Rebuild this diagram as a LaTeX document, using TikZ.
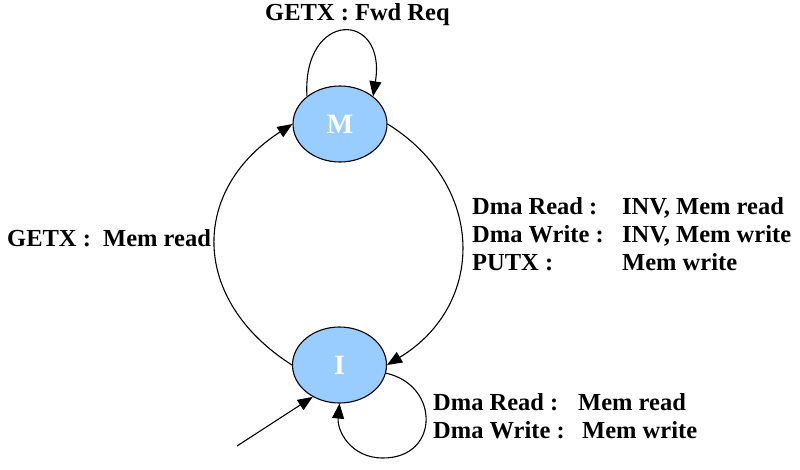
\documentclass[tikz,border=0pt]{standalone}
\usepackage{fontspec}
\setmainfont{Liberation Serif}
\usetikzlibrary{shapes.geometric,arrows.meta}
\definecolor{stateblue}{HTML}{99CCFF}
\begin{document}
\begin{tikzpicture}[x=1pt,y=-1pt,
  state/.style={ellipse, draw, line width=1.1pt, fill=stateblue, minimum width=94pt, minimum height=76pt, inner sep=0pt, text=white, font=\fontsize{28}{30}\selectfont\bfseries},
  lbl/.style={anchor=base west, inner sep=0pt, align=left, font=\fontsize{24.5}{28}\selectfont\bfseries},
  trans/.style={draw, line width=1.1pt, -{Triangle[length=15pt,width=12pt]}}]
\useasboundingbox (0,0) rectangle (800,469);
\node[state] (M) at (340,124) {M};
\node[state] (I) at (339.5,365) {I};
\coordinate (start) at (237,446);
\draw[trans] (I.west) .. controls (190,300) and (190,190) .. (M.west);
\draw[trans] (M.east) .. controls (486,185) and (486,305) .. (I.east);
\draw[trans] (M.140) .. controls (302,10) and (387,10) .. (M.40);
\draw[trans] (I.-10) .. controls (440,385) and (440,458) .. (383,458) .. controls (350,458) and (337,430) .. (I.south);
\draw[trans] (start) -- (I.-130);
\node[lbl] (lM) at (265,20) {GETX : Fwd Req};
\node[lbl] (lL) at (7,246) {GETX :\ \ Mem read};
\node[lbl] (lR) at (472,270) {\makebox[150pt][l]{Dma Read :}INV, Mem read\\\makebox[150pt][l]{Dma Write :}INV, Mem write\\\makebox[150pt][l]{PUTX :}Mem write};
\node[lbl] (lI) at (433,438) {\makebox[145pt][l]{Dma Read :}Mem read\\\makebox[149pt][l]{Dma Write :}Mem write};
\end{tikzpicture}
\end{document}
